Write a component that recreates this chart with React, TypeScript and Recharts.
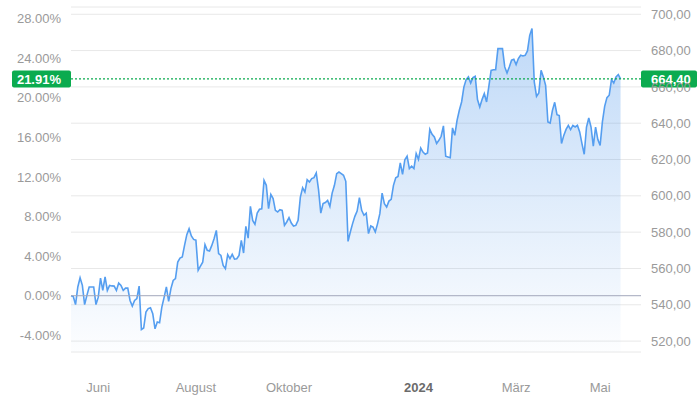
import {
  ComposedChart,
  Area,
  Line,
  XAxis,
  YAxis,
  CartesianGrid,
  ReferenceLine,
} from 'recharts'

// closing prices, one per trading day (late May 2023 -> May 2024)
const prices = [
  545.0, 544.6, 540.1, 549.8, 554.9, 550.7, 540.1, 545.2, 549.8, 549.8,
  549.8, 540.1, 544.2, 554.7, 547.9, 555.3, 547.9, 550.7, 550.4, 550.3,
  547.9, 552.0, 550.7, 547.9, 549.2, 549.2, 542.4, 539.3, 542.4, 543.4,
  550.3, 526.4, 527.2, 536.0, 537.9, 538.4, 535.1, 526.8, 530.5, 530.1,
  538.7, 544.1, 549.8, 541.9, 548.9, 553.4, 554.4, 563.5, 565.7, 566.3,
  572.7, 578.6, 581.9, 577.9, 576.0, 575.6, 559.0, 561.3, 563.5, 573.1,
  570.0, 569.6, 572.7, 576.4, 581.0, 568.2, 567.2, 561.7, 559.9, 567.6,
  565.4, 567.8, 565.2, 565.4, 567.2, 575.5, 568.5, 583.2, 576.7, 594.2,
  586.5, 584.3, 590.5, 592.6, 592.9, 608.5, 605.8, 592.9, 600.8, 598.5,
  592.0, 591.1, 592.4, 592.0, 583.7, 585.6, 588.0, 585.0, 583.4, 583.7,
  586.5, 599.3, 604.5, 602.1, 608.9, 607.6, 609.5, 610.0, 612.6, 603.4,
  590.5, 595.7, 596.3, 597.5, 594.2, 601.5, 605.8, 612.2, 613.1, 612.2,
  611.3, 608.0, 574.9, 580.1, 584.7, 588.7, 591.6, 599.0, 592.0, 589.3,
  590.5, 579.2, 583.4, 582.8, 580.1, 584.7, 590.2, 601.5, 595.7, 593.8,
  597.1, 598.1, 605.8, 610.0, 610.7, 618.1, 611.8, 619.9, 621.9, 615.0,
  616.3, 615.0, 623.3, 620.1, 626.3, 624.1, 622.9, 623.6, 636.6, 633.9,
  632.4, 628.8, 630.6, 632.8, 638.5, 621.8, 621.4, 621.0, 637.4, 633.3,
  641.6, 647.1, 651.7, 659.9, 664.0, 665.5, 662.1, 665.1, 665.8, 653.0,
  648.9, 653.0, 656.3, 651.7, 660.3, 669.1, 669.4, 669.5, 681.1, 681.1,
  681.1, 671.0, 667.7, 671.0, 674.7, 675.2, 672.3, 675.6, 677.4, 677.0,
  677.4, 679.8, 688.4, 692.1, 662.7, 654.8, 656.6, 669.1, 665.5, 660.9,
  640.7, 640.1, 647.1, 651.5, 644.7, 644.2, 628.8, 633.3, 636.6, 638.8,
  636.5, 638.8, 637.9, 638.8, 635.2, 628.8, 622.9, 637.9, 642.9, 637.9,
  627.3, 637.9, 631.0, 627.8, 640.7, 649.3, 654.1, 655.4, 664.0, 662.1,
  665.5, 666.8, 664.4,
]

const basePrice = 545
const lastPrice = 664.4
const lastPct = 21.91

const monthTicks = [12, 55, 96, 153, 196, 233]
const monthLabels = ['Juni', 'August', 'Oktober', '2024', 'März', 'Mai']

const priceTicks = [520, 540, 560, 580, 600, 620, 640, 660, 680, 700]
const pctTicks = [-4, 0, 4, 8, 12, 16, 20, 24, 28]

const data = prices.map((p, i) => ({ i, price: p }))

const FONT = 'Arial, "Liberation Sans", sans-serif'
const GREEN = '#0bab4f'

function MonthTick({ x, y, payload }: any) {
  const label = monthLabels[monthTicks.indexOf(payload.value)] ?? ''
  const bold = label === '2024'
  return (
    <text
      x={x}
      y={y}
      dy="0.71em"
      textAnchor="middle"
      fontFamily={FONT}
      fontSize={13}
      fontWeight={bold ? 700 : 400}
      fill={bold ? '#6b6b6b' : '#9a9a9a'}
    >
      {label}
    </text>
  )
}

function PriceTags(props: any) {
  const vb = props.viewBox || {}
  const x = vb.x ?? 0
  const y = vb.y ?? 0
  const w = vb.width ?? 0
  return (
    <g fontFamily={FONT} fontSize={13} fontWeight={700} fill="#fff">
      <rect x={x - 59} y={y - 8.5} width={59} height={17} rx={2} fill={GREEN} />
      <text x={x - 10} y={y} dy="0.355em" textAnchor="end">
        {lastPct.toFixed(2) + '%'}
      </text>
      <rect x={x + w} y={y - 8.5} width={56} height={17} rx={2} fill={GREEN} />
      <text x={x + w + 10} y={y} dy="0.355em" textAnchor="start">
        {lastPrice.toFixed(2).replace('.', ',')}
      </text>
    </g>
  )
}

export default function App() {
  return (
    <div style={{ width: 700, height: 401 }}>
      <style>{'body{margin:0}'}</style>
      <ComposedChart
        width={700}
        height={401}
        data={data}
        margin={{ top: 7, right: 0, left: 0, bottom: 0 }}
      >
        <defs>
          <linearGradient id="fillPrice" x1="0" y1="0" x2="0" y2="1">
            <stop offset="0%" stopColor="#3d8ce8" stopOpacity={0.55} />
            <stop offset="100%" stopColor="#3d8ce8" stopOpacity={0.02} />
          </linearGradient>
        </defs>
        <CartesianGrid yAxisId="right" vertical={false} stroke="#e8e8e8" />
        <XAxis
          dataKey="i"
          type="number"
          domain={[0, 251]}
          ticks={monthTicks}
          tick={<MonthTick />}
          tickLine={false}
          axisLine={false}
          tickSize={0}
          tickMargin={31}
          height={49}
          interval={0}
        />
        <YAxis
          yAxisId="left"
          orientation="left"
          type="number"
          domain={[514, 704]}
          ticks={pctTicks.map((p) => basePrice * (1 + p / 100))}
          tickFormatter={(v: number) => ((v / basePrice - 1) * 100).toFixed(2) + '%'}
          width={71}
          tickLine={false}
          axisLine={false}
          tickSize={0}
          tickMargin={10}
          tick={{ fontSize: 13, fill: '#9a9a9a', fontFamily: FONT }}
          allowDataOverflow
        />
        <YAxis
          yAxisId="right"
          orientation="right"
          type="number"
          domain={[514, 704]}
          ticks={priceTicks}
          tickFormatter={(v: number) => v.toFixed(2).replace('.', ',')}
          width={59}
          tickLine={false}
          axisLine={false}
          tickSize={0}
          tickMargin={10}
          tick={{ fontSize: 13, fill: '#9a9a9a', fontFamily: FONT }}
          allowDataOverflow
        />
        <ReferenceLine yAxisId="right" y={basePrice} stroke="#a3a8bb" strokeWidth={1} />
        <Area
          yAxisId="right"
          type="linear"
          dataKey="price"
          stroke="#559ef0"
          strokeWidth={1.6}
          fill="url(#fillPrice)"
          dot={false}
          activeDot={false}
          isAnimationActive={false}
        />
        <Line
          yAxisId="left"
          dataKey="price"
          stroke="none"
          dot={false}
          activeDot={false}
          isAnimationActive={false}
        />
        <ReferenceLine
          yAxisId="right"
          y={lastPrice}
          stroke={GREEN}
          strokeWidth={1.2}
          strokeDasharray="2 2"
          label={(p: any) => <PriceTags {...p} />}
        />
      </ComposedChart>
    </div>
  )
}
